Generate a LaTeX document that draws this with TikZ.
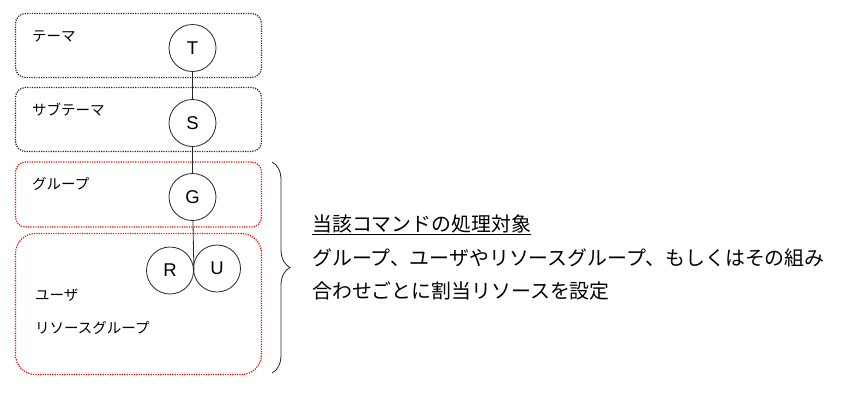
\documentclass[tikz,border=0pt]{standalone}
\usepackage{fontspec}
\setmainfont{Liberation Sans}
\newfontfamily\jpfont{Noto Sans CJK JP}
\usetikzlibrary{decorations.pathreplacing}
\begin{document}
\begin{tikzpicture}[
  x=1pt, y=-1pt,
  layerbox/.style={draw=black!85, line width=1.2pt, dash pattern=on 1.2pt off 1.2pt,
    rounded corners=10pt, minimum width=246pt, inner sep=0pt},
  targetbox/.style={layerbox, draw=red},
  level/.style={circle, draw=black!85, line width=0.8pt, minimum size=47pt,
    inner sep=0pt, font=\fontsize{18.5}{18}\selectfont},
  boxlabel/.style={anchor=west, inner sep=0pt, font=\jpfont\fontsize{14.5}{15}\selectfont},
  note/.style={anchor=west, inner sep=0pt, font=\jpfont\fontsize{19.9}{20}\selectfont},
  link/.style={draw=black!85, line width=0.8pt}
]
\useasboundingbox (0,0) rectangle (848,397);
% layers
\node[layerbox, minimum height=64pt] (themebox) at (138.5,45.5) {};
\node[layerbox, minimum height=64pt] (subbox) at (138.5,119.5) {};
\node[targetbox, minimum height=65pt] (groupbox) at (138.5,194.5) {};
\node[targetbox, minimum height=141pt, rounded corners=20pt] (userbox) at (138.5,304) {};
\node[boxlabel] (themelbl) at (32,36) {テーマ};
\node[boxlabel] (sublbl) at (32,110) {サブテーマ};
\node[boxlabel] (grouplbl) at (32,184) {グループ};
\node[boxlabel] (userlbl) at (35,295) {ユーザ};
\node[boxlabel] (rglbl) at (35,328) {リソースグループ};
% hierarchy
\node[level] (T) at (192.5,48) {T};
\node[level] (S) at (192.5,123) {S};
\node[level] (G) at (192.5,197) {G};
\node[level] (R) at (170,270.5) {R};
\node[level] (U) at (217,268.5) {U};
\draw[link] (T) -- (S);
\draw[link] (S) -- (G);
\draw[link] (G) -- (R.east);
% brace and note
\coordinate (bracetop) at (272,162);
\coordinate (bracebot) at (272,373);
\draw[line width=0.8pt, draw=black!85, decoration={brace, amplitude=18pt}, decorate]
  (bracetop) -- (bracebot);
\node[note] (title) at (312,225) {\underline{当該コマンドの処理対象}};
\node[note] (line1) at (312,258) {グループ、ユーザやリソースグループ、もしくはその組み};
\node[note] (line2) at (312,291) {合わせごとに割当リソースを設定};
\end{tikzpicture}
\end{document}
